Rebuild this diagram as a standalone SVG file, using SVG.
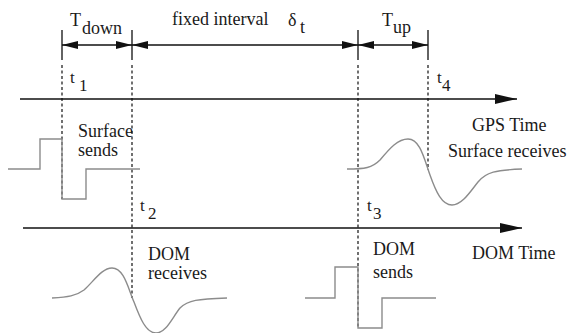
<svg xmlns="http://www.w3.org/2000/svg" width="571" height="333" viewBox="0 0 571 333">
<style>
text{font-family:'Liberation Serif','DejaVu Serif','Times New Roman',serif;fill:#1a1a1a}
.t{font-size:18px}
.s{font-size:17px}
.ax{stroke:#111;stroke-width:1.5;fill:none}
.dim{stroke:#111;stroke-width:1.3;fill:none}
.dash{stroke:#111;stroke-width:1.2;stroke-dasharray:3 2.5;fill:none}
.sig{stroke:#8c8c8c;stroke-width:1.4;fill:none}
</style>
<defs>
<marker id="dh" viewBox="0 0 16 8" refX="16" refY="4" markerWidth="16" markerHeight="8" markerUnits="userSpaceOnUse" orient="auto-start-reverse">
<path d="M0,0 L16,4 L0,8 Z" fill="#111"/>
</marker>
<marker id="ah" viewBox="0 0 22 10" refX="22" refY="5" markerWidth="22" markerHeight="10" markerUnits="userSpaceOnUse" orient="auto">
<path d="M0,0 L22,5 L0,10 Z" fill="#111"/>
</marker>
</defs>
<g id="connectors">
<path class="dim" d="M62,45 H132" marker-start="url(#dh)" marker-end="url(#dh)"/>
<path class="dim" d="M132,45 H358" marker-start="url(#dh)" marker-end="url(#dh)"/>
<path class="dim" d="M358,45 H428" marker-start="url(#dh)" marker-end="url(#dh)"/>
<path class="dim" d="M62,30 V60 M132,30 V60 M358,30 V60 M428,30 V60"/>
<path class="dash" d="M62,65 V199 M132,65 V298 M358,65 V328 M428,65 V170"/>
</g>
<g id="gps-axis">
<path class="ax" d="M20,99 H517" marker-end="url(#ah)"/>
<text class="t" x="472" y="131" font-family="Liberation Serif, serif">GPS Time</text>
</g>
<g id="dom-axis">
<path class="ax" d="M23,228 H522" marker-end="url(#ah)"/>
<text class="t" x="472" y="259" font-family="Liberation Serif, serif">DOM Time</text>
</g>
<g id="labels" font-family="Liberation Serif, serif">
<text class="t" x="70" y="26">T</text><text class="t" x="82" y="34">down</text>
<text class="t" x="172" y="25">fixed interval</text>
<text class="t" x="288" y="26">δ</text><text class="t" x="300" y="33">t</text>
<text class="t" x="382" y="26">T</text><text class="t" x="393" y="33">up</text>
<text class="s" x="70" y="83">t</text><text class="s" x="79" y="91">1</text>
<text class="s" x="437" y="83">t</text><text class="s" x="442" y="91">4</text>
<text class="s" x="140" y="211">t</text><text class="s" x="148" y="219">2</text>
<text class="s" x="367" y="211">t</text><text class="s" x="373" y="219">3</text>
</g>
<g id="surface-sends">
<path class="sig" d="M8,169 H40 V139 H62 V199 H86 V169 H140"/>
<text class="t" x="78" y="137">Surface</text>
<text class="t" x="78" y="156">sends</text>
</g>
<g id="surface-receives">
<path class="sig" d="M347,169 C365,169 372,168 380,160 C390,148 398,139 408,139 C420,139 424,158 430,175 C436,192 442,205 452,205 C462,205 470,192 478,182 C486,172 496,170 522,169"/>
<text class="t" x="448" y="157">Surface receives</text>
</g>
<g id="dom-receives">
<path class="sig" d="M52,298 C68,297 76,296 84,290 C94,281 102,268 112,268 C124,268 128,288 134,302 C140,318 146,333 156,333 C166,333 172,318 180,308 C188,300 198,299 227,298"/>
<text class="t" x="148" y="260">DOM</text>
<text class="t" x="148" y="279">receives</text>
</g>
<g id="dom-sends">
<path class="sig" d="M305,298 H335 V267 H358 V328 H382 V298 H436"/>
<text class="t" x="373" y="255">DOM</text>
<text class="t" x="373" y="278">sends</text>
</g>
</svg>
